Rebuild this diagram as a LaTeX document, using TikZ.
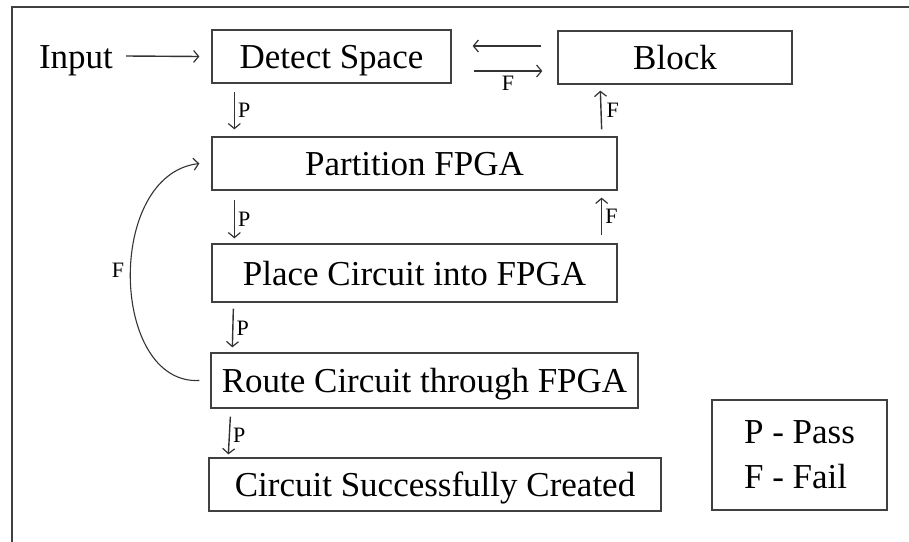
\documentclass[tikz,border=0pt]{standalone}
\usepackage{fontspec}
\setmainfont{Liberation Serif}
\usetikzlibrary{arrows.meta,calc}
\tikzset{
  box/.style={draw=black!75, line width=1.3pt, inner sep=0pt, text height=24pt, text depth=0pt, font=\fontsize{35}{45}\selectfont},
  arr/.style={draw=black!80, line width=1.4pt, -{Straight Barb[length=5pt,width=12pt,line width=1.2pt]}},
  lab/.style={font=\fontsize{22}{24}\selectfont, inner sep=3pt},
  frameline/.style={draw=black!75, line width=1.5pt}
}
\begin{document}
\begin{tikzpicture}[x=1pt,y=-1pt]
\useasboundingbox (0,0) rectangle (909,541);
\draw[frameline] (12,545) -- (12,7) -- (912,7);

\node[inner sep=0pt, text height=24pt, text depth=0pt, font=\fontsize{35}{45}\selectfont] (input) at (76,56) {Input};
\node[box, minimum width=239pt, minimum height=53pt] (detect) at (331.5,56.5) {Detect Space};
\node[box, minimum width=234pt, minimum height=53pt] (block) at (675,57.5) {Block};
\node[box, minimum width=405pt, minimum height=53pt] (part) at (414.5,163.5) {Partition FPGA};
\node[box, minimum width=405pt, minimum height=58pt] (place) at (414.5,273) {Place Circuit into FPGA};
\node[box, minimum width=427pt, minimum height=55pt] (route) at (424.5,380.5) {Route Circuit through FPGA};
\node[box, minimum width=452pt, minimum height=53pt] (circ) at (435,484.5) {Circuit Successfully Created};
\node[box, text height=, text depth=, minimum width=175pt, minimum height=110pt, align=left] (legend) at (799.5,455) {P - Pass\\F - Fail};

\draw[arr] ([xshift=13pt]input.east) -- ([xshift=-12pt]detect.west);
\draw[arr] ([xshift=-16pt,yshift=11.5pt]block.west) -- ([xshift=21pt,yshift=10.5pt]detect.east);
\draw[arr] ([xshift=22pt,yshift=-14.5pt]detect.east) -- ([xshift=-15pt,yshift=-13.5pt]block.west)
  node[lab, midway, below=1pt] (fdb) {F};

\draw[arr] ([xshift=23pt,yshift=-8pt]detect.south west) -- ([xshift=23pt,yshift=7pt]part.north west)
  node[lab, midway, right] (p1) {P};
\draw[arr] ([xshift=-16pt,yshift=7pt]part.north east) -- ([xshift=43pt,yshift=-6pt]block.south west)
  node[lab, midway, right, xshift=2pt] (f1) {F};
\draw[arr] ([xshift=23pt,yshift=-9pt]part.south west) -- ([xshift=23pt,yshift=5pt]place.north west)
  node[lab, midway, right] (p2) {P};
\draw[arr] ([xshift=-16pt,yshift=8pt]place.north east) -- ([xshift=-16pt,yshift=-7pt]part.south east)
  node[lab, midway, right] (f2) {F};
\draw[arr] ([xshift=22pt,yshift=-6pt]place.south west) -- ([xshift=22pt,yshift=5pt]route.north west)
  node[lab, midway, right] (p3) {P};
\draw[arr] ([xshift=20pt,yshift=-8pt]route.south west) -- ([xshift=20pt,yshift=3pt]circ.north west)
  node[lab, midway, right] (p4) {P};

\draw[arr, line width=1.1pt] ([xshift=-11pt]route.west) .. controls (110,385) and (105,175) .. ([xshift=-12pt]part.west);
\node[lab] (floop) at (118,270) {F};
\end{tikzpicture}
\end{document}
